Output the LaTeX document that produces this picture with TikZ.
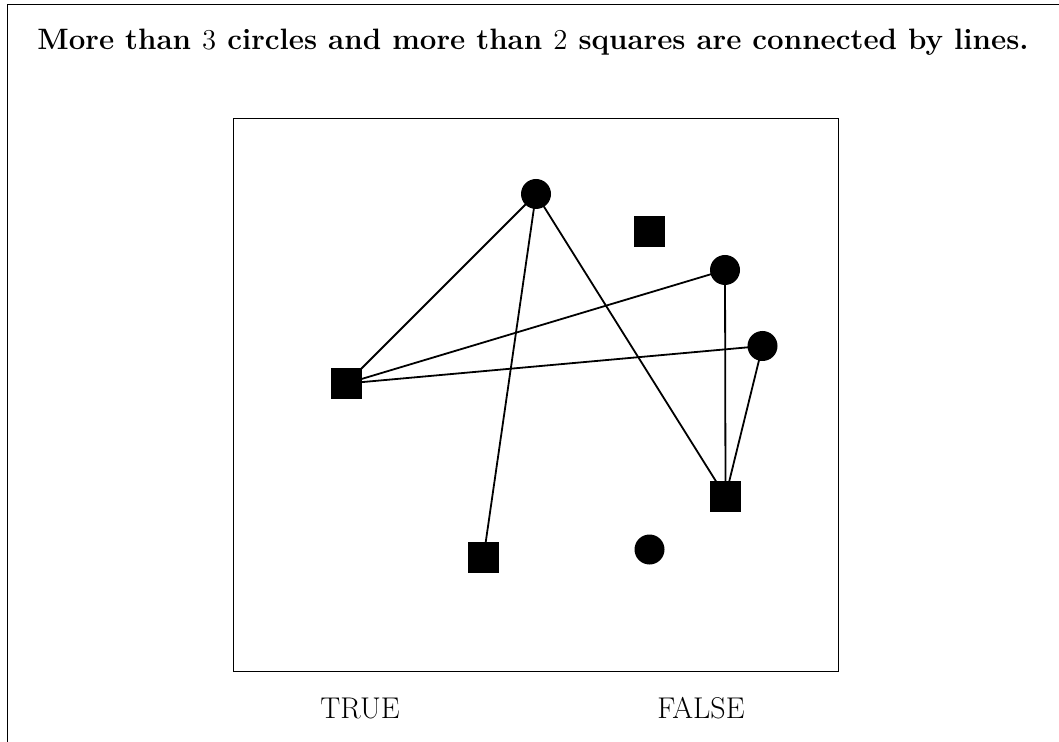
\documentclass[tikz,border=0pt]{standalone}
\usetikzlibrary{positioning}
\tikzset{
  dot/.style={circle,fill=black,inner sep=0pt,minimum size=15pt},
  blk/.style={rectangle,fill=black,inner sep=0pt,minimum size=15.5pt},
  link/.style={line width=0.9pt,draw=black},
  frame/.style={draw=black,line width=0.5pt},
  verdict/.style={font=\fontsize{15}{18}\selectfont,anchor=base},
}

\begin{document}
\begin{tikzpicture}[x=0.5pt,y=-0.5pt]
        \clip (0,0) rectangle (1059,742);
        % outer frame and panel
        \draw[frame] (7,5) rectangle (1120,800);
        \draw[frame] (233,119) rectangle (838,671);
        \node[anchor=base,font=\fontsize{14.75}{17}\selectfont\bfseries] (title) at (533,50)
          {More than $3$ circles and more than $2$ squares are connected by lines.};
        % shapes
        \node[dot] (c1) at (536,194) {};
        \node[dot] (c2) at (725,270) {};
        \node[dot] (c3) at (762.5,346) {};
        \node[dot] (c4) at (649.5,549.5) {};
        \node[blk] (s1) at (346.5,383.5) {};
        \node[blk] (s2) at (649.5,232) {};
        \node[blk] (s3) at (725.5,496.5) {};
        \node[blk] (s4) at (483.5,557.5) {};
        % lines
        \foreach \a/\b in {c1/s1,c1/s4,c1/s3,s1/c2,s1/c3,c2/s3,c3/s3}
          \draw[link] (\a.center) -- (\b.center);
        % verdicts
        \node[verdict] (yes) at (360,718) {TRUE};
        \node[verdict] (no) at (701,718) {FALSE};
\end{tikzpicture}
\end{document}
